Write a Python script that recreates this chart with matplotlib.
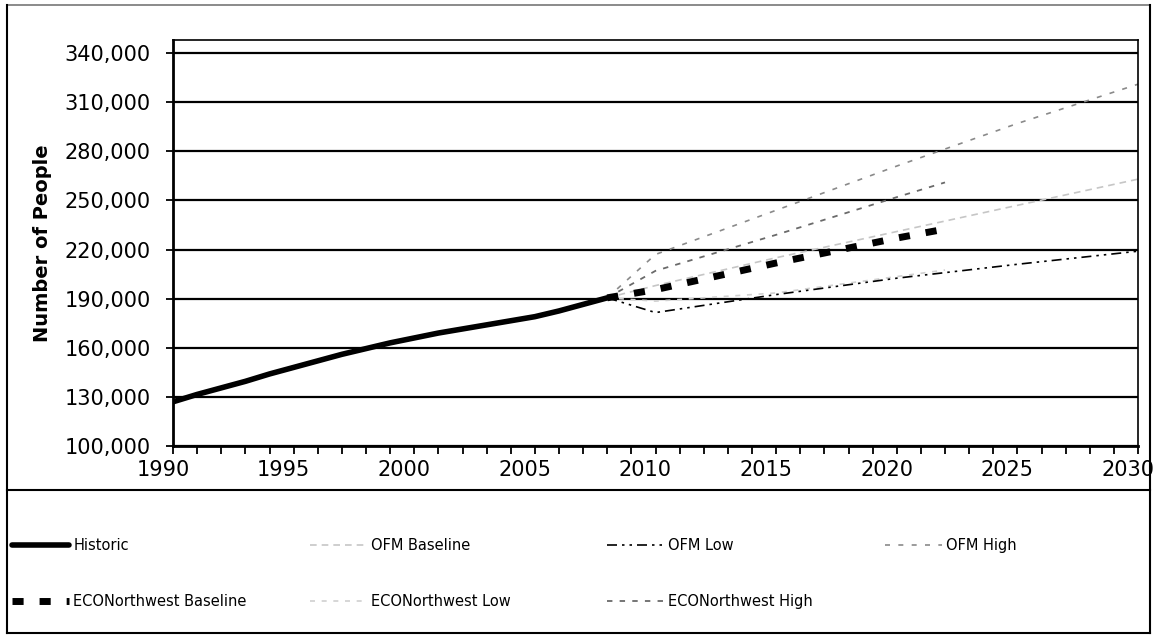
import numpy as np
import matplotlib
matplotlib.use("Agg")
import matplotlib.pyplot as plt
from matplotlib.lines import Line2D
from matplotlib.ticker import MultipleLocator, FuncFormatter
from matplotlib.transforms import ScaledTranslation

# --- data ---
hist_years = list(range(1990, 2009))
hist_vals = [127000, 131500, 135500, 139500, 144000, 148000, 152000, 156000, 159500,
             163000, 166000, 169000, 171500, 174000, 176500, 179000, 182500, 186500, 190500]

ofm_years = [2008, 2010, 2015, 2020, 2025, 2030]
ofm_base = [190500, 198000, 215000, 231000, 247000, 263000]
ofm_low = [190500, 181500, 192500, 202500, 211000, 219000]
ofm_high = [190500, 217000, 244000, 271000, 297000, 321000]

eco_years = [2008, 2010, 2015, 2020, 2022]
eco_base = [190500, 195500, 211800, 227000, 232500]
eco_low = [190500, 188500, 193500, 203500, 207500]
eco_high = [190500, 207000, 229000, 252000, 261000]

W, H = 1155, 636
fig = plt.figure(figsize=(W / 100, H / 100), dpi=100)
ax = fig.add_axes([173 / W, 1 - 446 / H, (1138 - 173) / W, (446 - 40) / H])

# faint series first so the dark ones sit on top
l_ofm_base, = ax.plot(ofm_years, ofm_base, color="#c6c6c6", lw=1.2, dashes=(4, 3))
l_eco_low, = ax.plot(eco_years, eco_low, color="#d0d0d0", lw=1.2, dashes=(3, 4))
l_ofm_high, = ax.plot(ofm_years, ofm_high, color="#8a8a8a", lw=1.2, dashes=(3, 5))
l_eco_high, = ax.plot(eco_years, eco_high, color="#6a6a6a", lw=1.3, dashes=(3, 4))
l_ofm_low, = ax.plot(ofm_years, ofm_low, color="black", lw=1.2,
                     dashes=(6, 3, 1.5, 3, 1.5, 3))
l_eco_base, = ax.plot(eco_years, eco_base, color="black", lw=5,
                      dashes=(1.6, 2.3), dash_capstyle="butt")
l_hist, = ax.plot(hist_years, hist_vals, color="black", lw=4, solid_capstyle="round")

ax.set_xlim(1990, 2030)
ax.set_ylim(100000, 348000)
ax.set_yticks(np.arange(100000, 340001, 30000))
ax.yaxis.set_major_formatter(FuncFormatter(lambda v, p: f"{int(v):,}"))
ax.xaxis.set_major_locator(MultipleLocator(5))
ax.xaxis.set_minor_locator(MultipleLocator(1))
ax.grid(axis="y", color="black", lw=1.6)
ax.set_axisbelow(True)

for s in ax.spines.values():
    s.set_linewidth(1.2)
ax.spines["left"].set_linewidth(2)
ax.spines["bottom"].set_linewidth(2)

ax.tick_params(axis="x", which="both", direction="out", length=6, width=1.3,
               labelsize=15, pad=4)
ax.tick_params(axis="y", direction="out", length=5, width=1.3, labelsize=15, pad=11)

# year labels in the scan sit a little left of their ticks
shift = ScaledTranslation(-10 / 100, 0, fig.dpi_scale_trans)
for lab in ax.get_xticklabels():
    lab.set_transform(lab.get_transform() + shift)

ax.set_ylabel("Number of People", fontsize=14, fontweight="bold")
ax.yaxis.set_label_coords((52 - 173) / (1138 - 173), 0.5)

# outer frame and the separator above the legend box
frame = dict(color="black", lw=1.5, transform=fig.transFigure)
x0, x1 = 7 / W, 1150 / W
y_top, y_sep, y_bot = 1 - 5 / H, 1 - 490 / H, 1 - 633 / H
fig.add_artist(Line2D([x0, x1], [y_top, y_top], color="#777777", lw=1.2,
                      transform=fig.transFigure))
fig.add_artist(Line2D([x0, x0], [y_bot, y_top], **frame))
fig.add_artist(Line2D([x1, x1], [y_bot, y_top], **frame))
fig.add_artist(Line2D([x0, x1], [y_sep, y_sep], **frame))
fig.add_artist(Line2D([x0, x1], [y_bot, y_bot], **frame))

# legend as four columns, each placed on its own
columns = [
    ([l_hist, l_eco_base], ["Historic", "ECONorthwest Baseline"], 12),
    ([l_ofm_base, l_eco_low], ["OFM Baseline", "ECONorthwest Low"], 310),
    ([l_ofm_low, l_eco_high], ["OFM Low", "ECONorthwest High"], 607),
    ([l_ofm_high], ["OFM High"], 885),
]
for handles, labels, xpix in columns:
    fig.legend(handles, labels, loc="upper left",
               bbox_to_anchor=(xpix / W, 1 - 538 / H),
               frameon=False, fontsize=10.5, handlelength=3.9, handletextpad=0.3,
               labelspacing=2.8, borderaxespad=0, borderpad=0)

fig.savefig("out.png", dpi=100)
